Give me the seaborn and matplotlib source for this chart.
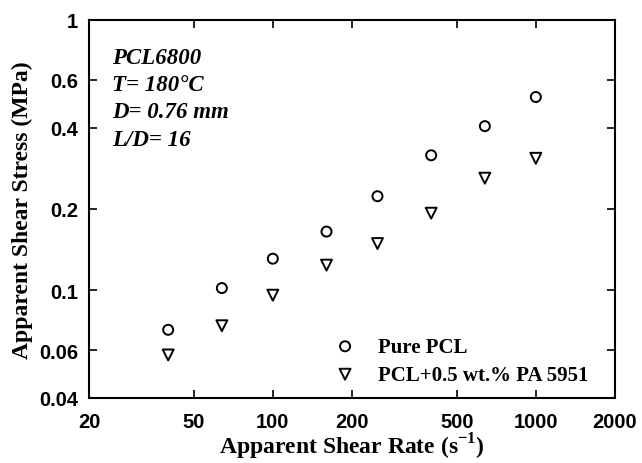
import matplotlib
matplotlib.use("Agg")
import matplotlib.pyplot as plt
import seaborn as sns
import pandas as pd
import numpy as np

shear_rate = [40, 64, 100, 160, 250, 400, 640, 1000]
pure_pcl = [0.0715, 0.102, 0.131, 0.165, 0.223, 0.316, 0.405, 0.519]
pcl_pa = [0.0577, 0.074, 0.096, 0.124, 0.149, 0.193, 0.26, 0.308]
series_names = ["Pure PCL", "PCL+0.5 wt.% PA 5951"]
x_ticks = [20, 50, 100, 200, 500, 1000, 2000]
y_ticks = [0.04, 0.06, 0.1, 0.2, 0.4, 0.6, 1]
y_ticklabels = ["0.04", "0.06", "0.1", "0.2", "0.4", "0.6", "1"]
annotation = ["PCL6800", "T= 180°C", "D= 0.76 mm", "L/D= 16"]

df = pd.DataFrame({
    "rate": shear_rate * 2,
    "stress": pure_pcl + pcl_pa,
    "series": [series_names[0]] * len(shear_rate) + [series_names[1]] * len(shear_rate),
})

sns.set_theme(style="white")
plt.rcParams["font.family"] = ["Liberation Serif", "DejaVu Serif"]
plt.rcParams["text.color"] = "black"
plt.rcParams["axes.labelcolor"] = "black"
plt.rcParams["xtick.color"] = "black"
plt.rcParams["ytick.color"] = "black"

fig = plt.figure(figsize=(6.42, 4.64), dpi=100)
ax = fig.add_axes([89 / 642, 1 - 399 / 464, (615 - 89) / 642, (399 - 21) / 464])

markers = {series_names[0]: "o", series_names[1]: "v"}
sizes = {series_names[0]: 52, series_names[1]: 62}
for name in series_names:
    sub = df[df["series"] == name]
    sns.scatterplot(data=sub, x="rate", y="stress", marker=markers[name], s=sizes[name],
                    facecolor="none", edgecolor="black", linewidth=1.4,
                    label=name, ax=ax, zorder=3)

ax.set_xscale("log")
ax.set_yscale("log")
ax.set_xlim(20, 2000)
ax.set_ylim(0.04, 1)
ax.xaxis.set_major_locator(matplotlib.ticker.FixedLocator(x_ticks))
ax.yaxis.set_major_locator(matplotlib.ticker.FixedLocator(y_ticks))
ax.xaxis.set_minor_locator(matplotlib.ticker.NullLocator())
ax.yaxis.set_minor_locator(matplotlib.ticker.NullLocator())
ax.set_xticklabels([str(v) for v in x_ticks], fontfamily="Liberation Sans", fontweight="bold", fontsize=14.5)
ax.set_yticklabels(y_ticklabels, fontfamily="Liberation Sans", fontweight="bold", fontsize=14.5)
ax.tick_params(which="major", direction="in", length=6, width=1.2, top=True, right=True,
               bottom=True, left=True, colors="black", labelcolor="black")
ax.tick_params(axis="x", pad=10)
ax.tick_params(axis="y", pad=8)
for sp in ax.spines.values():
    sp.set_color("black")
    sp.set_linewidth(1.5)

ax.set_xlabel("Apparent Shear Rate (s$^{\\mathregular{-1}}$)", fontsize=17, fontweight="bold",
              labelpad=0, color="black")
ax.set_ylabel("Apparent Shear Stress (MPa)", fontsize=17, fontweight="bold", labelpad=4, color="black")

for i, line in enumerate(annotation):
    ax.text(112 / 642, 1 - (59 + i * 27) / 464, line, transform=fig.transFigure, color="black",
            fontsize=16.5, fontweight="bold", fontstyle="italic", va="center", ha="left")

leg = ax.legend(loc="upper left", bbox_to_anchor=(0.467, 0.162), frameon=False,
                handlelength=1.0, handletextpad=1.09, borderpad=0, borderaxespad=0,
                labelspacing=0.38, prop={"family": "Liberation Serif", "weight": "bold", "size": 15})
for t in leg.get_texts():
    t.set_color("black")

ax.grid(False)
fig.savefig("out.png", dpi=100)
